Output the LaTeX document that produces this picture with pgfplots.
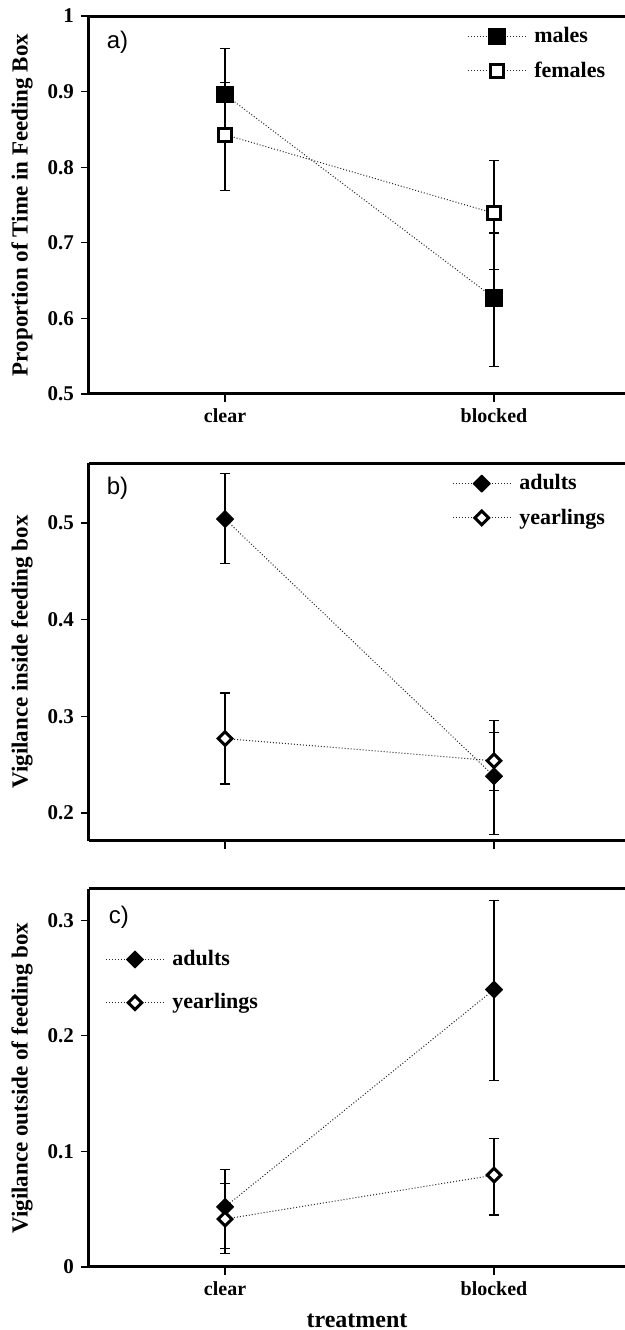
\documentclass[border=0pt]{standalone}
\usepackage{fontspec}
\setmainfont{Liberation Serif}
\newfontfamily\panelfont{Liberation Sans}
\usepackage{pgfplots}
\usepackage{pgfplotstable}
\pgfplotsset{compat=1.18}

% x: 0 = clear, 1 = blocked; ep/em = upper/lower error bar
\pgfplotstableread{
x y ep em
0 0.896 0.061 0.062
1 0.627 0.086 0.091
}\males
\pgfplotstableread{
x y ep em
0 0.843 0.069 0.074
1 0.739 0.070 0.074
}\females
\pgfplotstableread{
x y ep em
0 0.504 0.047 0.046
1 0.238 0.058 0.060
}\adultsin
\pgfplotstableread{
x y ep em
0 0.277 0.047 0.047
1 0.254 0.029 0.031
}\yearlingsin
\pgfplotstableread{
x y ep em
0 0.052 0.032 0.036
1 0.240 0.077 0.079
}\adultsout
\pgfplotstableread{
x y ep em
0 0.0415 0.031 0.030
1 0.0795 0.032 0.0345
}\yearlingsout

\pgfplotsset{
  panel/.style={
    scale only axis, width=268pt, height=189pt,
    anchor=south west,
    xmin=-0.506, xmax=1.487,
    axis x line*=box, axis y line*=left,
    axis line style={line width=1.5pt, -},
    tick align=outside, xtick pos=left, ytick pos=left,
    major tick length=4pt,
    tick style={line width=0.6pt, black},
    xtick={0,1},
    yticklabel style={font=\fontsize{10.5}{12}\selectfont\bfseries},
    xticklabel style={font=\fontsize{10}{12}\selectfont\bfseries},
    /pgf/number format/assume math mode=true,
    label style={font=\fontsize{11.5}{13}\selectfont\bfseries},
    ylabel style={at={(axis description cs:-0.125,0.5)}, anchor=center},
    legend cell align=left,
    legend style={draw=none, fill=none, inner sep=0pt,
      font=\fontsize{11}{13}\selectfont\bfseries, row sep=6pt,
      nodes={inner sep=1pt}},
    legend image code/.code={
      \draw[mark repeat=2, mark phase=2, #1]
        plot coordinates {(0pt,0pt) (14.5pt,0pt) (29pt,0pt)};
      \path (32pt,0pt);},
  },
  series/.style={black!85, densely dotted, line width=0.5pt,
    error bars/.cd, y dir=both, y explicit,
    error bar style={solid, black, line width=0.6pt},
    error mark options={solid, black, rotate=90, mark size=2.5pt, line width=0.6pt}},
  fsq/.style={mark=square*, mark size=4.1pt,
    mark options={solid, fill=black, draw=black, line width=0.4pt}},
  osq/.style={mark=square*, mark size=3.3pt,
    mark options={solid, fill=white, draw=black, line width=1.5pt}},
  fdia/.style={mark=square*, mark size=3pt,
    mark options={solid, rotate=45, fill=black, draw=black, line width=0.5pt, line join=round}},
  odia/.style={mark=square*, mark size=2.4pt,
    mark options={solid, rotate=45, fill=white, draw=black, line width=1.5pt}},
}

\begin{document}
\begin{tikzpicture}
\path[use as bounding box] (0,0) rectangle (312.5pt,665pt);

% a) time in feeding box
\begin{axis}[panel, at={(44.5pt,468pt)},
  ymin=0.5, ymax=1, ytick={0.5,0.6,0.7,0.8,0.9,1},
  yticklabels={0.5,0.6,0.7,0.8,0.9,1},
  xticklabels={clear,blocked},
  ylabel={Proportion of Time in Feeding Box},
  legend style={at={(axis description cs:0.705,0.976)}, anchor=north west}]
\addplot[fsq, series] table[x=x, y=y, y error plus=ep, y error minus=em] {\males};
\addplot[osq, series] table[x=x, y=y, y error plus=ep, y error minus=em] {\females};
\legend{males, females}
\node[anchor=west, font=\panelfont\fontsize{12}{14}\selectfont] at (axis description cs:0.02,0.931) {a)};
\end{axis}

% b) vigilance inside
\begin{axis}[panel, at={(44.5pt,244.5pt)},
  ymin=0.171, ymax=0.562, ytick={0.2,0.3,0.4,0.5},
  xticklabels={},
  ylabel={Vigilance inside feeding box},
  legend style={at={(axis description cs:0.677,0.976)}, anchor=north west}]
\addplot[fdia, series] table[x=x, y=y, y error plus=ep, y error minus=em] {\adultsin};
\addplot[odia, series] table[x=x, y=y, y error plus=ep, y error minus=em] {\yearlingsin};
\legend{adults, yearlings}
\node[anchor=west, font=\panelfont\fontsize{12}{14}\selectfont] at (axis description cs:0.02,0.934) {b)};
\end{axis}

% c) vigilance outside
\begin{axis}[panel, at={(44.5pt,31.5pt)},
  ymin=0, ymax=0.327, ytick={0,0.1,0.2,0.3},
  yticklabels={0,0.1,0.2,0.3},
  xticklabels={clear,blocked},
  xlabel={treatment},
  xlabel style={font=\fontsize{12}{14}\selectfont\bfseries, yshift=-2pt},
  ylabel={Vigilance outside of feeding box},
  legend style={at={(axis description cs:0.030,0.844)}, anchor=north west, row sep=10.5pt}]
\addplot[fdia, series] table[x=x, y=y, y error plus=ep, y error minus=em] {\adultsout};
\addplot[odia, series] table[x=x, y=y, y error plus=ep, y error minus=em] {\yearlingsout};
\legend{adults, yearlings}
\node[anchor=west, font=\panelfont\fontsize{12}{14}\selectfont] at (axis description cs:0.024,0.926) {c)};
\end{axis}
\end{tikzpicture}
\end{document}
